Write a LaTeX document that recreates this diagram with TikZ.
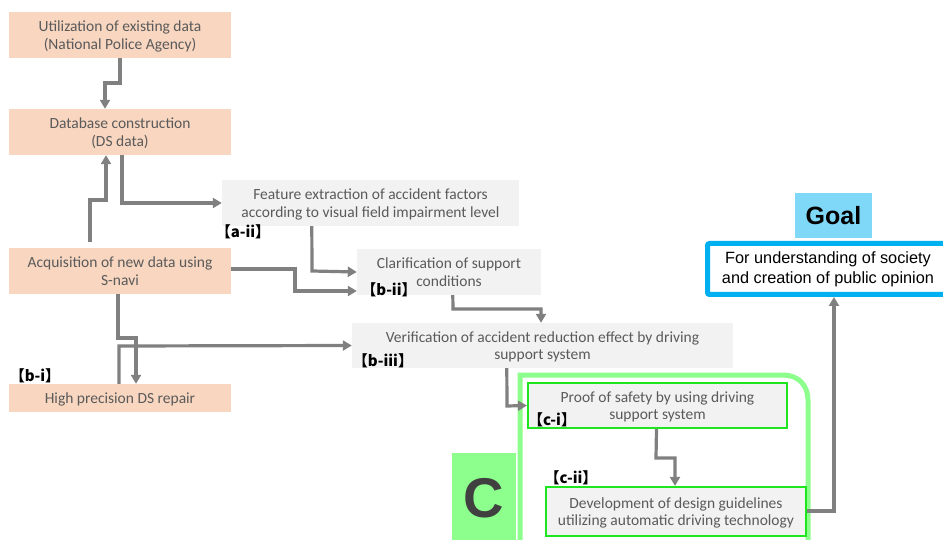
\documentclass[tikz,border=0pt]{standalone}
\usepackage{fontspec}
\setmainfont{Carlito}
\newfontfamily\goalfont{Liberation Sans}
\newfontfamily\cjkfont[RawFeature=+halt]{Noto Sans CJK JP}
\usetikzlibrary{arrows.meta}
\definecolor{peach}{HTML}{F8D6C0}
\definecolor{lightbox}{HTML}{F2F2F2}
\definecolor{txtgray}{HTML}{5A5A5A}
\definecolor{arrgray}{HTML}{808080}
\definecolor{brightgreen}{HTML}{1EE61E}
\definecolor{framegreen}{HTML}{8CFF8C}
\definecolor{goalblue}{HTML}{00B0F0}
\definecolor{goalsky}{HTML}{80D8F8}
\definecolor{cdark}{HTML}{404040}
\begin{document}
\begin{tikzpicture}[x=1pt,y=-1pt,
  box/.style={inner sep=0pt, align=center, text=txtgray, text depth=0pt,
    font=\fontsize{15.5}{17.5}\selectfont},
  peachbox/.style={box, fill=peach},
  graybox/.style={box, fill=lightbox},
  greenbox/.style={box, fill=lightbox, draw=brightgreen, line width=2.2pt},
  tag/.style={inner sep=0pt, text=black, font=\cjkfont\bfseries\fontsize{15}{16}\selectfont},
  arr/.style={draw=arrgray, line width=3.2pt, -{Triangle[length=9pt,width=10pt]}}
]
\useasboundingbox (0,0) rectangle (943,540);

% frame around part C
\draw[framegreen, line width=5pt] (520,545) -- (520,375) -- (783,375)
  .. controls (798,375) and (808,385) .. (808,400) -- (808,545);

% left column
\node[peachbox, minimum width=222pt, minimum height=46pt] (A1) at (120,35)
  {Utilization of existing data\\(National Police Agency)};
\node[peachbox, minimum width=222pt, minimum height=46pt] (A2) at (120,132)
  {Database construction\\(DS data)};
\node[peachbox, minimum width=222pt, minimum height=46pt] (A3) at (120,271)
  {Acquisition of new data using\\S-navi};
\node[peachbox, minimum width=222pt, minimum height=28pt] (A4) at (120,398)
  {High precision DS repair};

% middle steps
\node[graybox, minimum width=297pt, minimum height=46pt] (B1) at (370.5,203)
  {Feature extraction of accident factors\\according to visual field impairment level};
\node[graybox, minimum width=184pt, minimum height=46pt] (B2) at (449,272)
  {Clarification of support\\conditions};
\node[graybox, minimum width=381pt, minimum height=45pt] (B3) at (542.5,345.5)
  {Verification of accident reduction effect by driving\\support system};

% part C steps
\node[greenbox, minimum width=259pt, minimum height=45pt] (C1) at (657.5,405.5)
  {Proof of safety by using driving\\support system};
\node[greenbox, minimum width=260pt, minimum height=49pt] (C2) at (676,511.5)
  {Development of design guidelines\\utilizing automatic driving technology};

% part C marker
\node[fill=framegreen, minimum width=64pt, minimum height=90pt, inner sep=0pt,
  text=cdark, font=\goalfont\bfseries\fontsize{56}{56}\selectfont] (Cmark) at (484,498) {C};

% goal
\node[fill=goalsky, minimum width=77pt, minimum height=45pt, inner sep=0pt,
  font=\goalfont\bfseries\fontsize{25}{28}\selectfont] (goallabel) at (833.5,215.5) {Goal};
\node[draw=goalblue, line width=5pt, rounded corners=2pt, fill=white,
  minimum width=245pt, minimum height=51pt, inner sep=0pt, align=center,
  font=\goalfont\fontsize{16.3}{20}\selectfont] (goal) at (830,269)
  {\hspace*{-4pt}For understanding of society\\\hspace*{-4pt}and creation of public opinion};

% step tags
\node[tag] (ta) at (243,232) {【a-ii】};
\node[tag] (tb1) at (35,376) {【b-i】};
\node[tag] (tb2) at (389,290) {【b-ii】};
\node[tag] (tb3) at (383,361) {【b-iii】};
\node[tag] (tc1) at (552,420) {【c-i】};
\node[tag] (tc2) at (571,478) {【c-ii】};

% connectors (shifts are in page direction: positive yshift moves up)
\draw[arr] (A1.south) -- (120,83) -- (105,83) -- ([xshift=-15pt]A2.north);
\draw[arr] ([yshift=6pt,xshift=-30pt]A3.north) -- (90,200) -- (106,200) -- ([xshift=-14pt]A2.south);
\draw[arr] ([xshift=2pt]A2.south) -- (122,203) -- (B1.west);
\draw[arr] ([xshift=90pt]B1.south west) -- (312,271) -- (B2.west);
\draw[arr] ([yshift=2pt]A3.east) -- (295,269) -- (295,291) -- ([yshift=-19pt]B2.west);
\draw[arr] ([xshift=-2pt]A3.south) -- (118,338) -- (136,338) -- ([xshift=16pt]A4.north);
\draw[arr] ([xshift=-1pt]A4.north) -- (119,346) -- (B3.west);
\draw[arr] ([xshift=96pt]B2.south west) -- (453,309) -- (541,309) -- ([xshift=-1.5pt]B3.north);
\draw[arr] ([xshift=155pt]B3.south west) -- (507,406) -- (C1.west);
\draw[arr] ([xshift=-1pt]C1.south) -- (656,458) -- (675,458) -- ([xshift=-1pt]C2.north);
\draw[arr] ([yshift=0.5pt]C2.east) -- (834,511) -- (goal.south -| 834,0);
\end{tikzpicture}
\end{document}
